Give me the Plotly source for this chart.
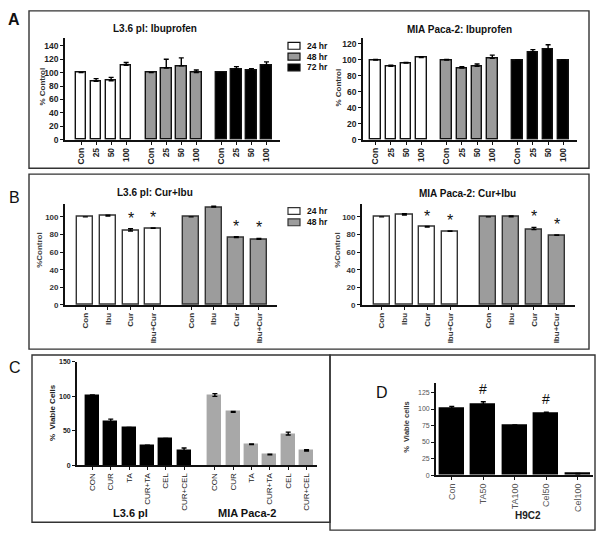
import plotly.graph_objects as go

# ---------------- DATA ----------------
a_doses = ["Con", "25", "50", "100"]
a_times = ["24 hr", "48 hr", "72 hr"]
a_l36_vals = [[100, 87, 88, 111], [100, 107, 110, 100], [100, 105, 103, 111]]
a_l36_err = [[0, 4, 5, 4], [0, 13, 12, 4], [0, 4, 3, 5]]
a_mia_vals = [[100, 92, 96, 103], [100, 90, 92, 102], [100, 110, 113, 99]]
a_mia_err = [[0.5, 1.5, 1, 1], [0.5, 1.5, 3, 4], [0, 3, 6, 1]]

b_treat = ["Con", "Ibu", "Cur", "Ibu+Cur"]
b_times = ["24 hr", "48 hr"]
b_l36_vals = [[100, 101, 84, 87], [100, 111, 76.5, 74.5]]
b_l36_err = [[0, 1, 2.5, 0.5], [0, 1, 1, 1]]
b_l36_sig = [[False, False, True, True], [False, False, True, True]]
b_mia_vals = [[100, 102, 88.5, 83.5], [100, 100, 85.5, 79]]
b_mia_err = [[0, 1.5, 0.5, 0.5], [0, 1, 2.5, 0.5]]
b_mia_sig = [[False, False, True, True], [False, False, True, True]]

c_treat = ["CON", "CUR", "TA", "CUR+TA", "CEL", "CUR+CEL"]
c_lines = ["L3.6 pl", "MIA Paca-2"]
c_vals = [[100, 63, 54, 28.5, 38.5, 21], [100, 77, 30, 15, 44, 20.5]]
c_err = [[2, 4, 1, 0.5, 0.5, 4], [4, 1, 1, 1, 4, 2]]

d_treat = ["Con", "TA50", "TA100", "Cel50", "Cel100"]
d_vals = [101, 107, 75, 93, 2]
d_err = [3, 4, 1, 2, 0.5]
d_sig = [False, True, False, True, False]

# ---------------- LAYOUT HELPERS ----------------
W, H = 602, 542
FONT = "Liberation Sans, Arial, sans-serif"


def X(px):
    return px / W


def Y(py):
    return 1 - py / H


fig = go.Figure()
layout = dict(width=W, height=H, margin=dict(l=0, r=0, t=0, b=0), autosize=False,
              paper_bgcolor="white", plot_bgcolor="rgba(0,0,0,0)", showlegend=False,
              font=dict(family=FONT, color="#111"), bargap=0)
annotations = []
shapes = []


def add_panel(n, box, ymax, yticks, labels, groups, errs, colors, gap, bw, lpad, rpad,
              xfont, yfont, line_colors, sig=None, sig_char="*", sig_size=15, sig_shift=2):
    left, right, top, bottom = box
    ng = len(labels)
    positions = []
    for g, vals in enumerate(groups):
        xs = [g * (ng + gap) + i for i in range(ng)]
        positions += xs
        fig.add_trace(go.Bar(
            x=xs, y=vals, width=bw, xaxis=f"x{n}", yaxis=f"y{n}",
            marker=dict(color=colors[g], line=dict(color=line_colors[g], width=1.4)),
            error_y=dict(type="data", symmetric=False, array=errs[g],
                         arrayminus=[0] * ng, color="black", thickness=1.4, width=2.5),
            hoverinfo="skip"))
        if sig is not None:
            for i, s in enumerate(sig[g]):
                if s:
                    annotations.append(dict(
                        x=xs[i], y=vals[i] + errs[g][i], xref=f"x{n}", yref=f"y{n}",
                        text=sig_char, showarrow=False, yanchor="bottom",
                        yshift=sig_shift, font=dict(size=sig_size, color="#111", family=FONT)))
    last = positions[-1]
    layout[f"xaxis{n}"] = dict(
        domain=[X(left), X(right)], anchor=f"y{n}", range=[-lpad, last + rpad],
        tickmode="array", tickvals=positions, ticktext=labels * len(groups),
        tickangle=-90, ticks="outside", ticklen=3, tickwidth=1.3, tickcolor="#111",
        showline=True, linecolor="#111", linewidth=1.6, showgrid=False, zeroline=False,
        tickfont=xfont, fixedrange=True)
    layout[f"yaxis{n}"] = dict(
        domain=[Y(bottom), Y(top)], anchor=f"x{n}", range=[0, ymax],
        tickmode="array", tickvals=yticks, ticks="outside", ticklen=3, tickwidth=1.3,
        tickcolor="#111", showline=True, linecolor="#111", linewidth=1.8,
        showgrid=False, zeroline=False, tickfont=yfont, fixedrange=True)


boldtick = dict(family=FONT, size=8.5, color="#222", weight="bold")

# Panel A
add_panel(1, (65, 280, 35, 138), 151, list(range(0, 141, 20)), a_doses,
          a_l36_vals, a_l36_err, ["white", "#9a9a9a", "black"], 0.67, 0.7, 1.07, 0.9,
          boldtick, boldtick, ["#111", "#111", "#111"])
add_panel(2, (363, 577, 35, 138), 127, list(range(0, 121, 20)), a_doses,
          a_mia_vals, a_mia_err, ["white", "#9a9a9a", "black"], 0.67, 0.7, 0.83, 0.9,
          boldtick, boldtick, ["#111", "#111", "#111"])

# Panel B
btick = dict(family=FONT, size=8, color="#333", weight="bold")
add_panel(3, (65, 277, 203, 306), 115, list(range(0, 101, 20)), b_treat,
          b_l36_vals, b_l36_err, ["white", "#9c9c9c"], 0.68, 0.71, 0.9, 0.8,
          btick, btick, ["#333", "#333"], sig=b_l36_sig, sig_size=16, sig_shift=0)
add_panel(4, (362, 575, 203, 306), 115, list(range(0, 101, 20)), b_treat,
          b_mia_vals, b_mia_err, ["white", "#9c9c9c"], 0.68, 0.71, 0.86, 0.8,
          btick, btick, ["#333", "#333"], sig=b_mia_sig, sig_size=16, sig_shift=0)

# Panel C
add_panel(5, (77, 317, 364, 469), 150, [0, 50, 100, 150], c_treat,
          c_vals, c_err, ["black", "#a8a8a8"], 0.68, 0.71, 0.84, 0.57,
          dict(family=FONT, size=8, color="#222"),
          dict(family=FONT, size=7, color="#222", weight="bold"), ["black", "#a8a8a8"])

# Panel D
add_panel(6, (436, 593, 385, 479), 140, [0, 25, 50, 75, 100, 125], d_treat,
          [d_vals], [d_err], ["black"], 0, 0.77, 0.5, 0.48,
          dict(family=FONT, size=9, color="#555"),
          dict(family=FONT, size=7, color="#555"), ["black"],
          sig=[d_sig], sig_char="#", sig_size=14, sig_shift=3)

# ---------------- Decorations ----------------
for (x0, x1, y0, y1) in [(29, 589, 7, 167), (29, 589, 173, 351), (32, 330, 357, 527), (330, 595, 357, 535)]:
    shapes.append(dict(type="rect", xref="paper", yref="paper", x0=X(x0), x1=X(x1),
                       y0=Y(y1), y1=Y(y0), line=dict(color="#333", width=1.4)))


def text(px, py, s, size, bold=False, color="#111", angle=0, xanchor="center"):
    annotations.append(dict(x=X(px), y=Y(py), xref="paper", yref="paper", text=s,
                            showarrow=False, xanchor=xanchor, yanchor="middle", textangle=angle,
                            font=dict(family=FONT, size=size, color=color,
                                      weight="bold" if bold else "normal")))


# panel letters
text(14, 16, "A", 16, bold=True)
text(14, 197, "B", 16)
text(15, 370, "C", 16)
text(382, 395, "D", 16)

# titles
text(155, 25, "L3.6 pl: Ibuprofen", 10, bold=True)
text(459, 26, "MIA Paca-2: Ibuprofen", 10, bold=True)
text(155, 192, "L3.6 pl: Cur+Ibu", 10, bold=True)
text(467, 193, "MIA Paca-2: Cur+Ibu", 10, bold=True)

# y labels
text(43, 84, "% Control", 8, bold=True, color="#333", angle=-90)
text(339, 85, "% Control", 8, bold=True, color="#333", angle=-90)
text(40, 250, "%Control", 8, bold=True, color="#444", angle=-90)
text(338, 250, "%Control", 8, bold=True, color="#444", angle=-90)
text(52, 416, "%  Viable Cells", 8, bold=True, color="#222", angle=-90)
text(407, 430, "%  Viable cells", 7.5, bold=True, color="#333", angle=-90)

# group labels
text(130, 518, c_lines[0], 11, bold=True)
text(247, 518, c_lines[1], 11, bold=True)
text(528, 520, "H9C2", 10, bold=True, color="#222")

# legends (manual)
leg_colors_a = ["white", "#9a9a9a", "black"]
for i, (lab, ly) in enumerate(zip(a_times, [42.5, 53.5, 64.5])):
    shapes.append(dict(type="rect", xref="paper", yref="paper", x0=X(288), x1=X(300),
                       y0=Y(ly + 3.5), y1=Y(ly - 3.5), fillcolor=leg_colors_a[i],
                       line=dict(color="#111", width=1.2)))
    text(305, ly, lab, 8.5, bold=True, xanchor="left")
leg_colors_b = ["white", "#9c9c9c"]
for i, (lab, ly) in enumerate(zip(b_times, [210.5, 222])):
    shapes.append(dict(type="rect", xref="paper", yref="paper", x0=X(288), x1=X(300),
                       y0=Y(ly + 3.5), y1=Y(ly - 3.5), fillcolor=leg_colors_b[i],
                       line=dict(color="#333", width=1.2)))
    text(305, ly, lab, 8.5, bold=True, xanchor="left")

layout["annotations"] = annotations
layout["shapes"] = shapes
fig.update_layout(**layout)
fig.write_html("out.html", config={"displayModeBar": False},
               post_script="document.body.style.margin='0';document.body.style.padding='0';")
